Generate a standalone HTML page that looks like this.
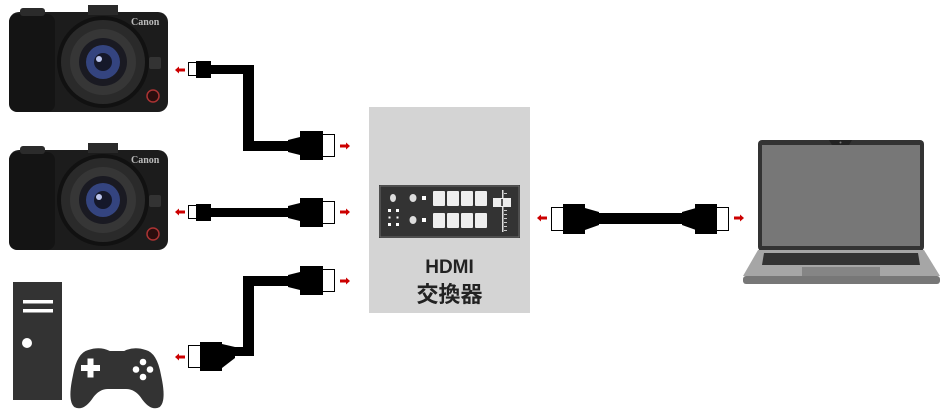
<!DOCTYPE html>
<html><head><meta charset="utf-8"><style>
html,body{margin:0;padding:0;background:#fff;width:950px;height:420px;overflow:hidden}
svg{display:block}
</style></head><body>
<svg width="950" height="420" viewBox="0 0 950 420" xmlns="http://www.w3.org/2000/svg">
<defs>
<g id="cam">
  <rect x="9" y="12" width="159" height="100" rx="10" fill="#1c1c1c"/>
  <rect x="88" y="5" width="30" height="10" fill="#2a2a2a"/>
  <rect x="9" y="14" width="46" height="98" rx="8" fill="#141414"/>
  <rect x="20" y="8" width="25" height="8" rx="3" fill="#2b2b2b"/>
  <circle cx="103" cy="62" r="46" fill="#111"/>
  <circle cx="103" cy="62" r="42" fill="#2a2a2a"/>
  <circle cx="103" cy="62" r="33" fill="#363636"/>
  <circle cx="103" cy="62" r="24" fill="#1a1a22"/>
  <circle cx="103" cy="62" r="17" fill="#34447f"/>
  <circle cx="103" cy="62" r="9" fill="#15182a"/>
  <circle cx="99" cy="59" r="3" fill="#bcc6ee"/>
  <text x="131" y="25" font-family="Liberation Serif,serif" font-size="10" font-weight="bold" fill="#bbb">Canon</text>
  <rect x="149" y="57" width="12" height="12" rx="2" fill="#333"/>
  <circle cx="153" cy="96" r="6" fill="#2a0d0d" stroke="#a33" stroke-width="1.5"/>
</g>
<g id="arrR"><rect x="0" y="-1.5" width="6" height="3" fill="#c00"/><polygon points="6,-3.5 10,0 6,3.5" fill="#c00"/></g>
<g id="arrL"><rect x="4" y="-1.5" width="6" height="3" fill="#c00"/><polygon points="4,-3.5 0,0 4,3.5" fill="#c00"/></g>
</defs>

<use href="#cam"/>
<use href="#cam" y="138"/>

<use href="#arrL" x="175" y="70"/>
<rect x="188.5" y="62.5" width="9" height="13" fill="#fff" stroke="#000"/>
<rect x="196" y="61" width="15" height="17" fill="#000"/>
<path d="M211 65 H254 V141 H288 V151 H243 V74 H211 Z" fill="#000"/>
<polygon points="288,140 300,137 300,155 288,152" fill="#000"/>
<rect x="300" y="131" width="23" height="29" fill="#000"/>
<rect x="322.5" y="134.5" width="12" height="22" fill="#fff" stroke="#000"/>
<use href="#arrR" x="340" y="146"/>

<use href="#arrL" x="175" y="212"/>
<rect x="188.5" y="205.5" width="9" height="13" fill="#fff" stroke="#000"/>
<rect x="196" y="204" width="15" height="17" fill="#000"/>
<rect x="211" y="208" width="78" height="9" fill="#000"/>
<polygon points="288,206 300,203 300,221 288,218" fill="#000"/>
<rect x="300" y="198" width="23" height="29" fill="#000"/>
<rect x="322.5" y="201.5" width="12" height="22" fill="#fff" stroke="#000"/>
<use href="#arrR" x="340" y="212"/>

<rect x="300" y="266" width="23" height="29" fill="#000"/>
<rect x="322.5" y="269.5" width="12" height="22" fill="#fff" stroke="#000"/>
<polygon points="288,275 300,272 300,290 288,287" fill="#000"/>
<path d="M288 276 H243 V347 H235 V356 H254 V286 H288 Z" fill="#000"/>
<polygon points="235,347 222,344 222,368 235,358" fill="#000"/>
<rect x="200" y="342" width="22" height="29" fill="#000"/>
<rect x="188.5" y="345.5" width="12" height="22" fill="#fff" stroke="#000"/>
<use href="#arrR" x="340" y="281"/>
<use href="#arrL" x="175" y="357"/>

<rect x="13" y="282" width="49" height="118" fill="#333"/>
<rect x="23" y="300" width="30" height="3.5" fill="#fff"/>
<rect x="23" y="309" width="30" height="3.5" fill="#fff"/>
<circle cx="27" cy="343" r="5" fill="#fff"/>
<path d="M88 349 Q100 345 110 350 L124 350 Q134 345 146 349 Q158 352 162 375 Q168 402 160 408 Q150 413 140 398 Q134 390 126 390 L108 390 Q100 390 94 398 Q84 413 74 408 Q66 402 72 375 Q76 352 88 349 Z" fill="#333" stroke="#fff" stroke-width="2"/>
<rect x="81" y="365" width="19" height="6" fill="#fff"/>
<rect x="87.5" y="358.5" width="6" height="19" fill="#fff"/>
<circle cx="143" cy="362" r="3.3" fill="#fff"/>
<circle cx="143" cy="377" r="3.3" fill="#fff"/>
<circle cx="136" cy="369.5" r="3.3" fill="#fff"/>
<circle cx="150" cy="369.5" r="3.3" fill="#fff"/>

<rect x="369" y="107" width="161" height="206" fill="#d4d4d4"/>
<rect x="379" y="185" width="141" height="53" fill="#333"/>
<rect x="380" y="186" width="139" height="51" fill="none" stroke="#777" stroke-width="0.8"/>
<ellipse cx="393" cy="198" rx="3" ry="4" fill="#ddd"/>
<ellipse cx="413" cy="198" rx="3.5" ry="4" fill="#ddd"/>
<ellipse cx="413" cy="220" rx="3.5" ry="4" fill="#ddd"/>
<rect x="422" y="196" width="4" height="4" fill="#fff"/>
<rect x="422" y="218" width="4" height="4" fill="#fff"/>
<rect x="388" y="209" width="3" height="3" fill="#fff"/><rect x="396" y="209" width="3" height="3" fill="#fff"/>
<rect x="388.5" y="216.5" width="2" height="2" fill="#fff"/><rect x="396.5" y="216.5" width="2" height="2" fill="#fff"/>
<rect x="388" y="223" width="3" height="3" fill="#fff"/><rect x="396" y="223" width="3" height="3" fill="#fff"/>
<g fill="#eee">
<rect x="433" y="191" width="12" height="15" rx="1"/><rect x="447" y="191" width="12" height="15" rx="1"/><rect x="461" y="191" width="12" height="15" rx="1"/><rect x="475" y="191" width="12" height="15" rx="1"/>
<rect x="433" y="213" width="12" height="15" rx="1"/><rect x="447" y="213" width="12" height="15" rx="1"/><rect x="461" y="213" width="12" height="15" rx="1"/><rect x="475" y="213" width="12" height="15" rx="1"/>
</g>
<rect x="502" y="190" width="1.5" height="42" fill="#ddd"/>
<g fill="#ccc"><rect x="504" y="193" width="3" height="1"/><rect x="504" y="210" width="3" height="1"/><rect x="504" y="214" width="3" height="1"/><rect x="504" y="218" width="3" height="1"/><rect x="504" y="222" width="3" height="1"/><rect x="504" y="226" width="3" height="1"/><rect x="504" y="230" width="3" height="1"/></g>
<rect x="493" y="198" width="18" height="9" fill="#eee"/>
<rect x="501" y="199" width="2" height="7" fill="#555"/>
<text x="449.5" y="273" text-anchor="middle" font-family="Liberation Sans,sans-serif" font-weight="bold" font-size="19" fill="#222">HDMI</text>
<text x="449.5" y="302" text-anchor="middle" font-family="Liberation Sans,'Noto Sans CJK JP',sans-serif" font-weight="bold" font-size="22" fill="#222">交換器</text>

<use href="#arrL" x="537" y="218"/>
<rect x="551.5" y="207.5" width="12" height="23" fill="#fff" stroke="#000"/>
<rect x="563" y="204" width="22" height="30" fill="#000"/>
<polygon points="585,208 599,212 599,225 585,230" fill="#000"/>
<rect x="598" y="213" width="85" height="11" fill="#000"/>
<polygon points="682,212 696,208 696,230 682,225" fill="#000"/>
<rect x="695" y="204" width="22" height="30" fill="#000"/>
<rect x="716.5" y="207.5" width="12" height="23" fill="#fff" stroke="#000"/>
<use href="#arrR" x="734" y="218"/>

<rect x="758" y="140" width="166" height="111" rx="4" fill="#333"/>
<rect x="762" y="145" width="158" height="101" fill="#777"/>
<path d="M829 140 H852 L849 145 H832 Z" fill="#222"/>
<circle cx="840.5" cy="142.5" r="1" fill="#777"/>
<polygon points="758,250 924,250 940,276 743,276" fill="#a6a6a6"/>
<rect x="743" y="276" width="197" height="8" rx="3" fill="#777"/>
<polygon points="764,253 918,253 920,265 762,265" fill="#333"/>
<rect x="802" y="267" width="78" height="9" fill="#858585"/>
</svg>
</body></html>
